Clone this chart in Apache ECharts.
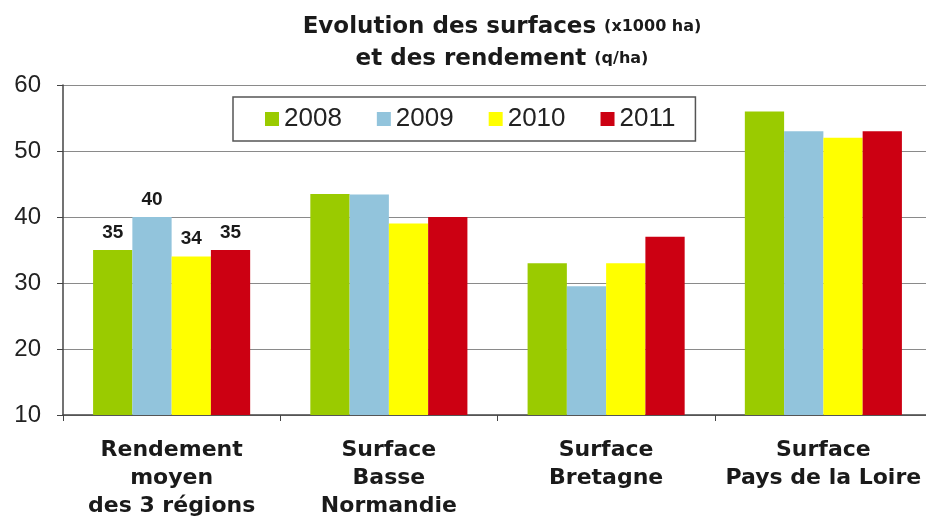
<!DOCTYPE html>
<html>
<head>
<meta charset="utf-8">
<title>Evolution des surfaces et des rendement</title>
<script src="https://cdn.jsdelivr.net/npm/echarts@6/dist/echarts.min.js"></script>
<style>
    html, body { margin: 0; padding: 0; background: #fff; }
    #chart { width: 926px; height: 521px; }
</style>
</head>
<body>
<div id="chart"></div>
<script>
// data
const categories = ['Rendement\nmoyen\ndes 3 régions', 'Surface\nBasse\nNormandie', 'Surface\nBretagne', 'Surface\nPays de la Loire'];
const years = ['2008', '2009', '2010', '2011'];
const values2008 = [35, 43.5, 33, 56];
const values2009 = [40, 43.4, 29.5, 53];
const values2010 = [34, 39, 33, 52];
const values2011 = [35, 40, 37, 53];
const yTicks = [10, 20, 30, 40, 50, 60];

const colors = ['#9acb00', '#92c4dc', '#ffff00', '#cc0012'];
const allValues = [values2008, values2009, values2010, values2011];

// only the first group carries value labels
function makeSeries(name, values, color) {
    return {
        type: 'bar',
        name: name,
        data: values.map((v, i) => i === 0 ? { value: v, label: { show: true } } : v),
        itemStyle: { color: color },
        barGap: 0,
        barCategoryGap: '27.7%',
        label: {
            show: false,
            position: 'top',
            distance: 8,
            fontFamily: 'Liberation Sans',
            fontWeight: 'bold',
            fontSize: 19,
            color: '#1a1a1a'
        }
    };
}

const chart = echarts.init(document.getElementById('chart'));

chart.setOption({
    backgroundColor: '#ffffff',
    animation: false,
    title: {
        left: 502,
        top: 11,
        padding: 0,
        textAlign: 'center',
        text: '{a|Evolution des surfaces }{b|(x1000 ha)}\n{a|et des rendement }{b|(q/ha)}',
        textStyle: {
            rich: {
                a: { fontFamily: 'DejaVu Sans', fontWeight: 'bold', fontSize: 23, color: '#1a1a1a', lineHeight: 32 },
                b: { fontFamily: 'DejaVu Sans', fontWeight: 'bold', fontSize: 16, color: '#1a1a1a', lineHeight: 32 }
            }
        }
    },
    legend: {
        data: years,
        left: 233,
        top: 97,
        padding: [9, 20, 9, 32],
        itemGap: 35,
        itemWidth: 14,
        itemHeight: 14,
        icon: 'rect',
        borderColor: '#555',
        borderWidth: 1.5,
        textStyle: {
            fontFamily: 'Liberation Sans',
            fontSize: 26,
            color: '#222'
        }
    },
    grid: {
        left: 63,
        right: -6,
        top: 85,
        bottom: 106,
        containLabel: false,
        outerBoundsMode: 'none'
    },
    xAxis: {
        type: 'category',
        data: categories,
        axisLine: { lineStyle: { color: '#444', width: 1.5 } },
        axisTick: { show: true, length: 6, lineStyle: { color: '#444' } },
        axisLabel: {
            margin: 21,
            interval: 0,
            fontFamily: 'DejaVu Sans',
            fontWeight: 'bold',
            fontSize: 22,
            lineHeight: 28,
            color: '#1a1a1a'
        }
    },
    yAxis: {
        type: 'value',
        min: yTicks[0],
        max: yTicks[yTicks.length - 1],
        interval: 10,
        axisLine: { show: true, lineStyle: { color: '#444', width: 1.5 } },
        axisTick: { show: true, length: 6, lineStyle: { color: '#444' } },
        axisLabel: {
            margin: 22,
            fontFamily: 'Liberation Sans',
            fontSize: 24,
            color: '#222'
        },
        splitLine: { lineStyle: { color: '#8a8a8a', width: 1 } }
    },
    series: years.map((y, i) => makeSeries(y, allValues[i], colors[i]))
});
</script>
</body>
</html>
